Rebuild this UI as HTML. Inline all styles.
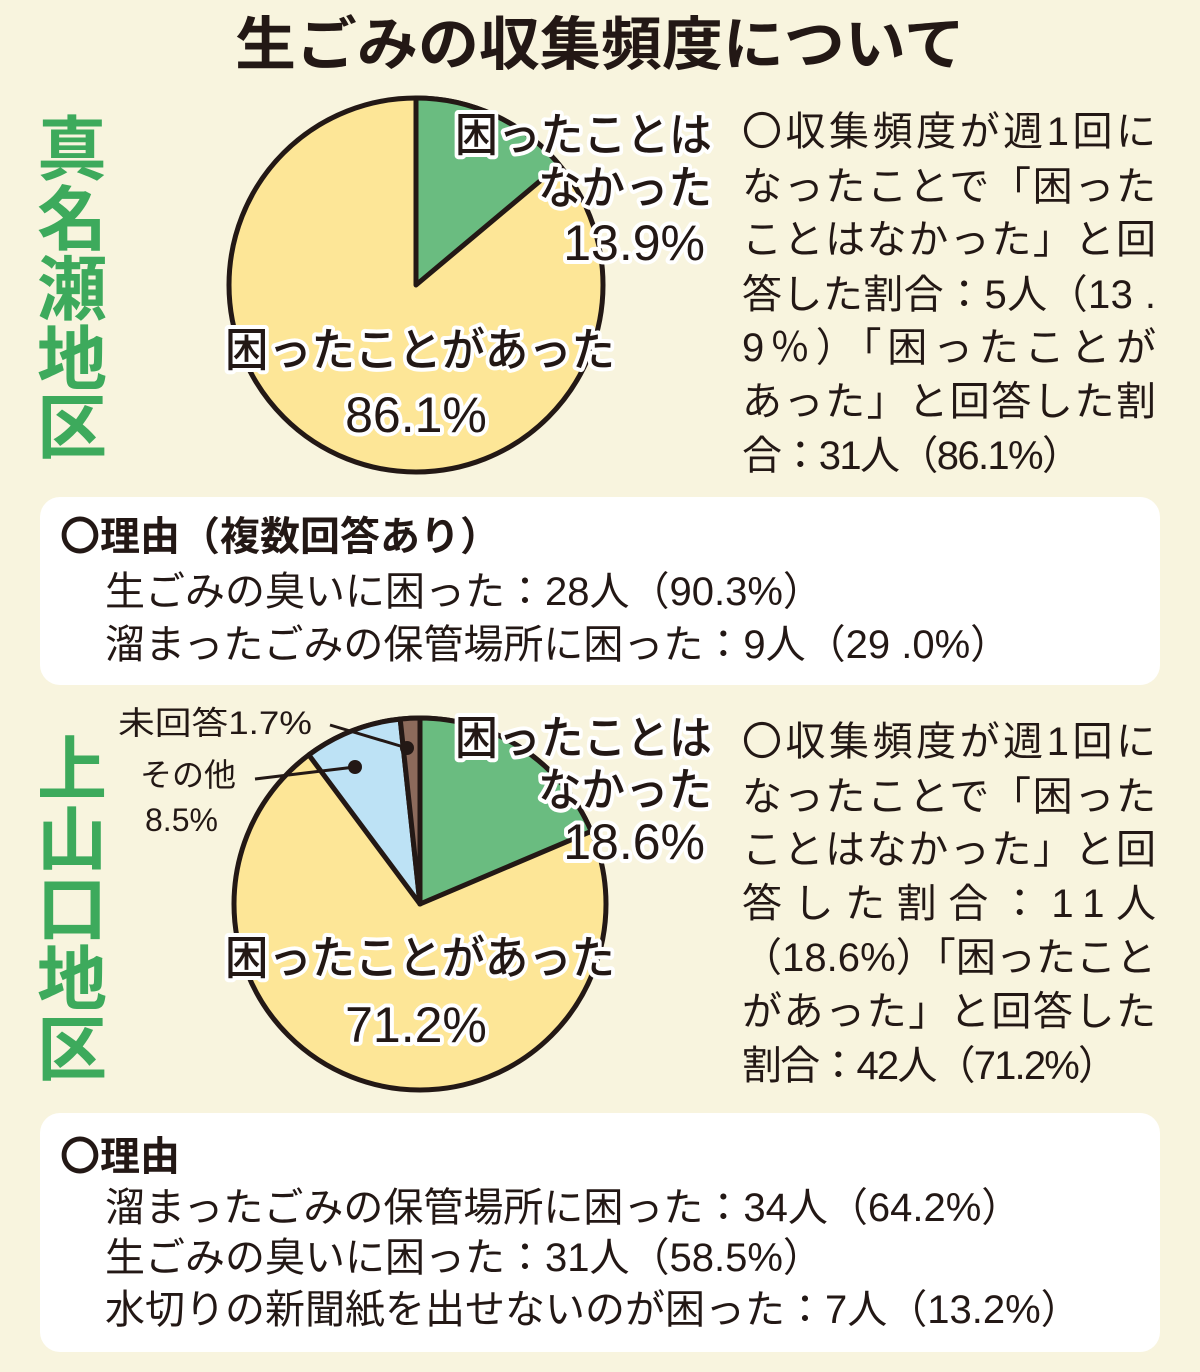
<!DOCTYPE html>
<html><head><meta charset="utf-8"><style>
html,body{margin:0;padding:0;background:#f8f4de;}
svg{display:block}
text{font-family:"Liberation Sans","Noto Sans CJK JP",sans-serif;fill:#231815;}
.o{stroke:#fff;stroke-width:8px;paint-order:stroke;stroke-linejoin:round;}
</style></head><body>
<svg width="1200" height="1372" viewBox="0 0 1200 1372">
<rect width="1200" height="1372" fill="#f8f4de"/>
<text x="235" y="45" font-size="58" font-weight="bold" textLength="730" lengthAdjust="spacingAndGlyphs" dominant-baseline="central">生ごみの収集頻度について</text>
<g font-size="70" font-weight="bold" text-anchor="middle" dominant-baseline="central">
<text x="72" y="150" style="fill:#3daa5c">真</text>
<text x="72" y="220" style="fill:#3daa5c">名</text>
<text x="72" y="290" style="fill:#3daa5c">瀬</text>
<text x="72" y="360" style="fill:#3daa5c">地</text>
<text x="72" y="428" style="fill:#3daa5c">区</text>
<text x="72" y="770" style="fill:#3daa5c">上</text>
<text x="72" y="840" style="fill:#3daa5c">山</text>
<text x="72" y="910" style="fill:#3daa5c">口</text>
<text x="72" y="980" style="fill:#3daa5c">地</text>
<text x="72" y="1050" style="fill:#3daa5c">区</text>
</g>
<g stroke="#231815" stroke-width="5" stroke-linejoin="round">
<circle cx="416" cy="285" r="187" fill="#fde697"/>
<path d="M416 285 L416 98 A187 187 0 0 1 559.3 164.8 Z" fill="#6abc80"/>
</g>
<g stroke="#231815" stroke-width="5" stroke-linejoin="round">
<circle cx="420" cy="904" r="186" fill="#fde697"/>
<path d="M420 904 L420 718 A186 186 0 0 1 591.2 831.3 Z" fill="#6abc80"/>
<path d="M420 904 L308.8 754.9 A186 186 0 0 1 400.2 719.1 Z" fill="#bde2f5"/>
<path d="M420 904 L400.2 719.1 A186 186 0 0 1 420 718 Z" fill="#8c6a5b"/>
</g>
<g stroke="#231815" stroke-width="3" fill="none">
<path d="M330 725 L407 748"/><path d="M255 779 L355 767"/>
</g>
<circle cx="407" cy="748" r="7" fill="#231815"/>
<circle cx="355" cy="767" r="7" fill="#231815"/>
<g font-size="46" font-weight="500" dominant-baseline="central">
<text class="o" x="455" y="135" textLength="257" lengthAdjust="spacingAndGlyphs">困ったことは</text>
<text class="o" x="538" y="188" textLength="174" lengthAdjust="spacingAndGlyphs">なかった</text>
<text class="o" x="705" y="243" text-anchor="end" font-size="50">13.9%</text>
<text class="o" x="225" y="350" textLength="390" lengthAdjust="spacingAndGlyphs">困ったことがあった</text>
<text class="o" x="416" y="415" text-anchor="middle" font-size="50">86.1%</text>
<text class="o" x="455" y="738" textLength="257" lengthAdjust="spacingAndGlyphs">困ったことは</text>
<text class="o" x="538" y="790" textLength="174" lengthAdjust="spacingAndGlyphs">なかった</text>
<text class="o" x="705" y="842" text-anchor="end" font-size="50">18.6%</text>
<text class="o" x="225" y="958" textLength="390" lengthAdjust="spacingAndGlyphs">困ったことがあった</text>
<text class="o" x="416" y="1025" text-anchor="middle" font-size="50">71.2%</text>
</g>
<g font-size="32" dominant-baseline="central">
<text x="118" y="723" textLength="194" lengthAdjust="spacingAndGlyphs">未回答1.7%</text>
<text x="140" y="775">その他</text>
<text x="145" y="820">8.5%</text>
</g>
<g font-size="40" dominant-baseline="central">
<text x="742" y="132" textLength="414" lengthAdjust="spacing">〇収集頻度が週1回に</text>
<text x="742" y="187" textLength="414" lengthAdjust="spacing">なったことで「困った</text>
<text x="742" y="240" textLength="414" lengthAdjust="spacing">ことはなかった」と回</text>
<text x="742" y="295" textLength="414" lengthAdjust="spacing">答した割合：5人（13 .</text>
<text x="742" y="348" textLength="414" lengthAdjust="spacing">9％）「困ったことが</text>
<text x="742" y="402" textLength="414" lengthAdjust="spacing">あった」と回答した割</text>
<text x="742" y="456" textLength="340" lengthAdjust="spacing">合：31人（86.1%）</text>
<text x="742" y="742" textLength="414" lengthAdjust="spacing">〇収集頻度が週1回に</text>
<text x="742" y="797" textLength="414" lengthAdjust="spacing">なったことで「困った</text>
<text x="742" y="850" textLength="414" lengthAdjust="spacing">ことはなかった」と回</text>
<text x="742" y="904" textLength="414" lengthAdjust="spacing">答した割合：11人</text>
<text x="742" y="958" textLength="414" lengthAdjust="spacing">（18.6%）「困ったこと</text>
<text x="742" y="1012" textLength="414" lengthAdjust="spacing">があった」と回答した</text>
<text x="742" y="1066" textLength="376" lengthAdjust="spacing">割合：42人（71.2%）</text>
</g>
<rect x="40" y="497" width="1120" height="188" rx="20" fill="#fff"/>
<rect x="40" y="1113" width="1120" height="239" rx="20" fill="#fff"/>
<g font-size="40" dominant-baseline="central">
<text x="60" y="537" font-weight="bold">〇理由（複数回答あり）</text>
<text x="105" y="592">生ごみの臭いに困った：28人（90.3%）</text>
<text x="105" y="645">溜まったごみの保管場所に困った：9人（29 .0%）</text>
<text x="60" y="1157" font-weight="bold">〇理由</text>
<text x="105" y="1208">溜まったごみの保管場所に困った：34人（64.2%）</text>
<text x="105" y="1258">生ごみの臭いに困った：31人（58.5%）</text>
<text x="105" y="1310">水切りの新聞紙を出せないのが困った：7人（13.2%）</text>
</g>
</svg>
</body></html>
